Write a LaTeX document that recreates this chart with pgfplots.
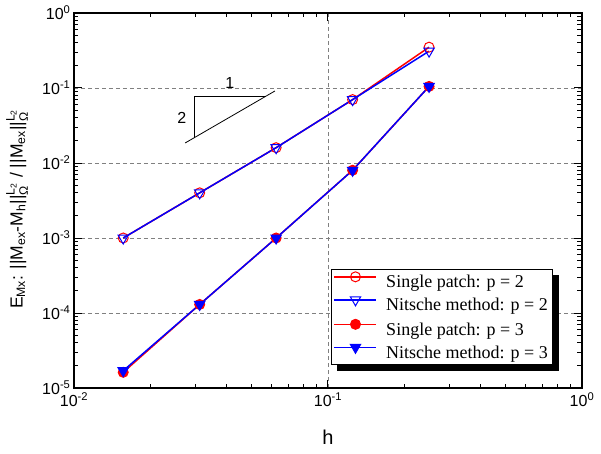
\documentclass[border=0pt]{standalone}
\usepackage{fontspec}
\setmainfont{Liberation Sans}
\newfontfamily\timesfont{Liberation Serif}
\usepackage{amsmath}
\usepackage{pgfplots}
\pgfplotsset{compat=1.18}

\begin{document}
\begin{tikzpicture}
\begin{axis}[
  at={(0pt,0pt)}, anchor=south west,
  scale only axis, width=508pt, height=375pt,
  xmode=log, ymode=log,
  xmin=0.01, xmax=1, ymin=1e-5, ymax=1,
  axis line style={line width=1.3pt},
  tick align=inside,
  xtick pos=both, ytick pos=both,
  xticklabel pos=left, yticklabel pos=left,
  major tick length=8pt, minor tick length=4.5pt,
  every tick/.style={black, line width=1pt},
  xtick={0.01,0.1,1},
  minor xtick={0.02,0.03,0.04,0.05,0.06,0.07,0.08,0.09,0.2,0.3,0.4,0.5,0.6,0.7,0.8,0.9},
  xticklabels={10\textsuperscript{-2},10\textsuperscript{-1},10\textsuperscript{0}},
  ytick={1e-5,1e-4,1e-3,1e-2,1e-1,1},
  minor ytick={2e-5,3e-5,4e-5,5e-5,6e-5,7e-5,8e-5,9e-5,
               2e-4,3e-4,4e-4,5e-4,6e-4,7e-4,8e-4,9e-4,
               2e-3,3e-3,4e-3,5e-3,6e-3,7e-3,8e-3,9e-3,
               2e-2,3e-2,4e-2,5e-2,6e-2,7e-2,8e-2,9e-2,
               0.2,0.3,0.4,0.5,0.6,0.7,0.8,0.9},
  yticklabels={10\textsuperscript{-5},10\textsuperscript{-4},10\textsuperscript{-3},10\textsuperscript{-2},10\textsuperscript{-1},10\textsuperscript{0}},
  tick label style={font=\fontsize{16}{16}\selectfont},
  xticklabel style={yshift=-1pt},
  grid=major,
  minor grid style={draw=none},
  major grid style={gray, line width=0.8pt, dash pattern=on 4pt off 3pt},
  xlabel={h},
  ylabel={E\textsubscript{Mx}: ||M\textsubscript{ex}-M\textsubscript{h}||$^{\text{L\textsubscript{2}}}_{\text{Ω}}$ / ||M\textsubscript{ex}||$^{\text{L\textsubscript{2}}}_{\text{Ω}}$},
  every axis x label/.style={at={(axis description cs:0.5,-0.131)}, anchor=center,
    font=\fontsize{20}{20}\selectfont},
  every axis y label/.style={at={(axis description cs:-0.112,0.477)}, rotate=90, anchor=center,
    font=\fontsize{17.5}{17.5}\selectfont},
  legend cell align=left,
  legend image code/.code={%
    \draw[mark repeat=2, mark phase=2] plot coordinates {(0pt,5.5pt) (21pt,5.5pt) (42pt,5.5pt)};},
  legend style={
    name=lgd,
    at={(0.506,0.317)}, anchor=north west,
    draw=black, fill=white,
    font=\timesfont\fontsize{18}{22}\selectfont,
    inner sep=2.5pt, row sep=5pt,
    /tikz/every odd column/.append style={column sep=7pt},
  },
]
% p = 2
\addplot[red, line width=1.5pt, mark=o, mark size=5pt, mark options={line width=1pt, fill=none}]
  coordinates {(0.015625,1.0e-3) (0.03125,4.0e-3) (0.0625,1.6e-2) (0.125,7.0e-2) (0.25,0.35)};
\addlegendentry{Single patch: p = 2}
\addplot[blue, line width=1.5pt, mark=triangle, mark size=6pt, mark options={line width=1pt, fill=none, rotate=180}]
  coordinates {(0.015625,1.0e-3) (0.03125,4.0e-3) (0.0625,1.6e-2) (0.125,7.0e-2) (0.25,0.31)};
\addlegendentry{Nitsche method: p = 2}
% p = 3
\addplot[red, line width=1.5pt, mark=*, mark size=5pt, mark options={line width=1pt, fill=red}]
  coordinates {(0.015625,1.62e-5) (0.03125,1.3e-4) (0.0625,1.0e-3) (0.125,8.0e-3) (0.25,0.105)};
\addlegendentry{Single patch: p = 3}
\addplot[blue, line width=1.5pt, mark=triangle*, mark size=6pt, mark options={line width=1pt, fill=blue, rotate=180}]
  coordinates {(0.015625,1.7e-5) (0.03125,1.3e-4) (0.0625,1.0e-3) (0.125,8.0e-3) (0.25,0.105)};
\addlegendentry{Nitsche method: p = 3}
% slope triangle
\addplot[black, line width=0.8pt, no marks, forget plot]
  coordinates {(0.0274,0.0185) (0.0618,0.0912)};
\addplot[black, line width=0.8pt, no marks, forget plot]
  coordinates {(0.0299,0.0215) (0.0299,0.0782) (0.0565,0.0782)};
\node[font=\fontsize{16}{16}\selectfont] at (axis cs:0.0411,0.1166) {1};
\node[font=\fontsize{16}{16}\selectfont] at (axis cs:0.0266,0.0398) {2};
\end{axis}
% solid shadow along the right and bottom edges of the legend box
\fill[black] ([xshift=0.5pt,yshift=-6pt]lgd.north east) rectangle ([xshift=6.5pt,yshift=-6.5pt]lgd.south east);
\fill[black] ([xshift=6pt,yshift=-0.5pt]lgd.south west) rectangle ([xshift=6.5pt,yshift=-6.5pt]lgd.south east);
\pgfresetboundingbox
\path (-74pt,-66pt) rectangle (527pt,388pt);
\end{tikzpicture}
\end{document}
